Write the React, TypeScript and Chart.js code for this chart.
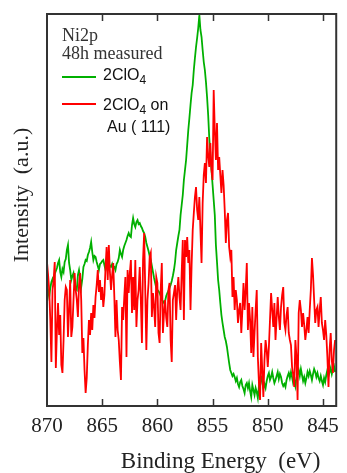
import React, { useEffect, useRef } from "react";
import { Chart, registerables } from "chart.js";

Chart.register(...registerables);

// Binding energy grid: 870 eV down to 843.9 eV, sampled every 0.1 eV
const energyStart = 870;
const energyStep = 0.1;

const xTicks = [870, 865, 860, 855, 850, 845];
const xMin = 843.8;
const xMax = 870;
const yMax = 392;

const xTitle = "Binding Energy  (eV)";
const yTitle = "Intensity  (a.u.)";

// Ni2p intensity (a.u.), 2ClO4
const greenValues = [
  121, 116, 109, 118, 124, 127, 123, 132, 135, 138,
  143, 146, 134, 129, 137, 134, 144, 147, 156, 161,
  143, 136, 126, 130, 133, 124, 117, 116, 131, 136,
  128, 119, 127, 139, 142, 146, 145, 151, 154, 158,
  164, 154, 146, 150, 149, 144, 140, 136, 142, 143,
  145, 146, 141, 136, 140, 143, 143, 140, 139, 142,
  138, 139, 136, 142, 144, 148, 156, 152, 149, 156,
  160, 163, 166, 170, 173, 170, 169, 181, 188, 182,
  179, 184, 186, 182, 183, 180, 178, 175, 173, 169,
  163, 159, 155, 150, 146, 140, 134, 128, 123, 118,
  116, 115, 113, 110, 106, 105, 103, 105, 110, 113,
  115, 118, 121, 125, 130, 136, 144, 156, 163, 170,
  176, 191, 201, 211, 226, 236, 246, 261, 276, 288,
  301, 313, 321, 336, 348, 359, 368, 378, 391, 376,
  369, 356, 344, 336, 324, 309, 291, 268, 251, 236,
  221, 206, 191, 161, 144, 126, 116, 103, 91, 83,
  76, 69, 65, 59, 51, 43, 36, 33, 30, 32,
  29, 25, 28, 22, 19, 24, 26, 20, 17, 13,
  21, 23, 18, 23, 15, 9, 21, 16, 11, 18,
  14, 8, 20, 28, 29, 23, 18, 22, 18, 25,
  30, 33, 26, 29, 34, 28, 23, 26, 30, 34,
  27, 32, 29, 23, 20, 22, 19, 26, 30, 33,
  28, 34, 29, 23, 26, 20, 28, 32, 36, 30,
  37, 31, 25, 29, 23, 28, 34, 30, 35, 31,
  26, 32, 37, 34, 29, 33, 28, 25, 30, 25,
  21, 28, 24, 31, 36, 30, 34, 38, 32, 37,
  40, 34,
];

// Ni2p intensity (a.u.), 2ClO4 on Au(111)
const redValues = [
  144, 131, 116, 86, 44, 116, 126, 144, 38, 76,
  103, 71, 91, 41, 33, 66, 106, 119, 116, 69,
  96, 126, 69, 79, 106, 133, 116, 106, 89, 121,
  133, 106, 53, 68, 36, 13, 28, 61, 86, 71,
  93, 76, 101, 88, 109, 121, 136, 114, 126, 106,
  119, 99, 111, 138, 159, 126, 161, 134, 116, 131,
  143, 109, 69, 106, 76, 66, 44, 26, 99, 86,
  109, 129, 49, 136, 113, 133, 146, 93, 129, 96,
  146, 79, 106, 116, 139, 106, 63, 146, 173, 116,
  56, 106, 123, 149, 153, 89, 113, 99, 79, 129,
  123, 73, 63, 116, 143, 73, 93, 106, 88, 79,
  116, 123, 66, 44, 106, 113, 121, 86, 116, 129,
  109, 96, 133, 166, 86, 166, 149, 169, 143, 156,
  96, 141, 176, 193, 209, 219, 196, 186, 209, 176,
  143, 203, 231, 243, 223, 269, 251, 239, 263, 236,
  226, 316, 276, 246, 283, 236, 249, 231, 213, 236,
  221, 196, 163, 186, 193, 159, 149, 156, 109, 129,
  96, 116, 106, 83, 96, 103, 73, 96, 123, 96,
  116, 143, 76, 103, 86, 53, 99, 49, 73, 96,
  116, 49, 23, 6, 63, 36, 9, 46, 66, 56,
  39, 59, 86, 113, 96, 79, 103, 66, 88, 109,
  89, 76, 99, 111, 119, 83, 76, 91, 99, 73,
  66, 61, 39, 31, 19, 66, 49, 6, 93, 106,
  96, 79, 93, 81, 66, 76, 89, 73, 96, 116,
  148, 131, 106, 83, 96, 99, 79, 96, 109, 83,
  76, 66, 86, 71, 49, 19, 56, 73, 46, 33,
  56, 66,
];

const seriesLabels = ["2ClO4", "2ClO4 on Au ( 111)"];
const serif = "'Liberation Serif', 'Times New Roman', serif";
const sans = "'Liberation Sans', Arial, sans-serif";
const greenColor = "#00b000";
const redColor = "#ff0000";

const toPoints = (vals: number[]) =>
  vals.map((v, i) => ({ x: +(energyStart - i * energyStep).toFixed(2), y: v }));

const framePlugin = {
  id: "frame",
  afterDatasetsDraw(chart: any) {
    const { ctx, chartArea } = chart;
    const xs = chart.scales.x;
    ctx.save();
    ctx.strokeStyle = "#333";
    ctx.lineWidth = 2;
    ctx.strokeRect(chartArea.left, chartArea.top, chartArea.right - chartArea.left, chartArea.bottom - chartArea.top);
    ctx.lineWidth = 1.5;
    for (const t of xTicks) {
      const px = Math.round(xs.getPixelForValue(t)) + 0.5;
      if (px <= chartArea.left + 2 || px >= chartArea.right - 2) continue;
      ctx.beginPath();
      ctx.moveTo(px, chartArea.bottom);
      ctx.lineTo(px, chartArea.bottom - 7);
      ctx.moveTo(px, chartArea.top);
      ctx.lineTo(px, chartArea.top + 7);
      ctx.stroke();
    }
    ctx.restore();
  },
  afterDraw(chart: any) {
    const { ctx, chartArea } = chart;
    ctx.save();
    ctx.fillStyle = "#222";
    ctx.textAlign = "center";
    ctx.textBaseline = "alphabetic";
    ctx.font = `23px ${serif}`;
    ctx.fillText(xTitle, (chartArea.left + chartArea.right) / 2 + 29, 468);
    ctx.translate(28, (chartArea.top + chartArea.bottom) / 2 - 15);
    ctx.rotate(-Math.PI / 2);
    ctx.font = `22px ${serif}`;
    ctx.fillText(yTitle, 0, 0);
    ctx.restore();
  },
};

export default function App() {
  const canvasRef = useRef<HTMLCanvasElement>(null);

  useEffect(() => {
    const canvas = canvasRef.current;
    if (!canvas) return;
    const chart = new Chart(canvas, {
      type: "line",
      data: {
        datasets: [
          {
            label: seriesLabels[1],
            data: toPoints(redValues),
            borderColor: redColor,
            borderWidth: 1.8,
            pointRadius: 0,
            tension: 0,
          },
          {
            label: seriesLabels[0],
            data: toPoints(greenValues),
            borderColor: greenColor,
            borderWidth: 1.8,
            pointRadius: 0,
            tension: 0,
          },
        ],
      },
      options: {
        responsive: false,
        animation: false,
        devicePixelRatio: 1,
        layout: { padding: { top: 14, right: 6, left: 0, bottom: 0 } },
        plugins: { legend: { display: false }, tooltip: { enabled: false } },
        scales: {
          x: {
            type: "linear",
            reverse: true,
            min: xMin,
            max: xMax,
            afterBuildTicks: (s: any) => {
              s.ticks = xTicks.map((v) => ({ value: v }));
            },
            afterFit: (s: any) => {
              s.height = 67;
            },
            grid: { display: false, drawTicks: false },
            border: { display: false },
            ticks: {
              font: { family: serif, size: 21 },
              color: "#222",
              padding: 8,
              maxRotation: 0,
              autoSkip: false,
            },
            title: { display: false },
          },
          y: {
            min: 0,
            max: yMax,
            afterFit: (s: any) => {
              s.width = 47;
            },
            grid: { display: false, drawTicks: false },
            border: { display: false },
            ticks: { display: false },
            title: { display: false },
          },
        },
      },
      plugins: [framePlugin],
    } as any);
    return () => chart.destroy();
  }, []);

  const lineSample = (color: string, left: number, top: number) => (
    <div style={{ position: "absolute", left, top, width: 34, height: 2, background: color }} />
  );

  return (
    <div style={{ position: "fixed", left: 0, top: 0, width: 347, height: 473, background: "#fff" }}>
      <canvas ref={canvasRef} width={347} height={473} style={{ display: "block" }} />
      <div style={{ position: "absolute", left: 62, top: 26, font: `18px ${serif}`, lineHeight: "18px", color: "#333", whiteSpace: "nowrap" }}>Ni2p</div>
      <div style={{ position: "absolute", left: 62, top: 44, font: `18px ${serif}`, lineHeight: "18px", color: "#333", whiteSpace: "nowrap" }}>48h measured</div>
      {lineSample(greenColor, 62, 76)}
      <div style={{ position: "absolute", left: 103, top: 67, font: `16px ${sans}`, lineHeight: "16px", color: "#111", whiteSpace: "nowrap" }}>
        2ClO<sub style={{ fontSize: 12, verticalAlign: -4, lineHeight: 0 }}>4</sub>
      </div>
      {lineSample(redColor, 62, 103)}
      <div style={{ position: "absolute", left: 103, top: 97, font: `16px ${sans}`, lineHeight: "16px", color: "#111", whiteSpace: "nowrap" }}>
        2ClO<sub style={{ fontSize: 12, verticalAlign: -4, lineHeight: 0 }}>4</sub> on
      </div>
      <div style={{ position: "absolute", left: 107, top: 119, font: `16px ${sans}`, lineHeight: "16px", color: "#111", whiteSpace: "nowrap" }}>Au ( 111)</div>
    </div>
  );
}
